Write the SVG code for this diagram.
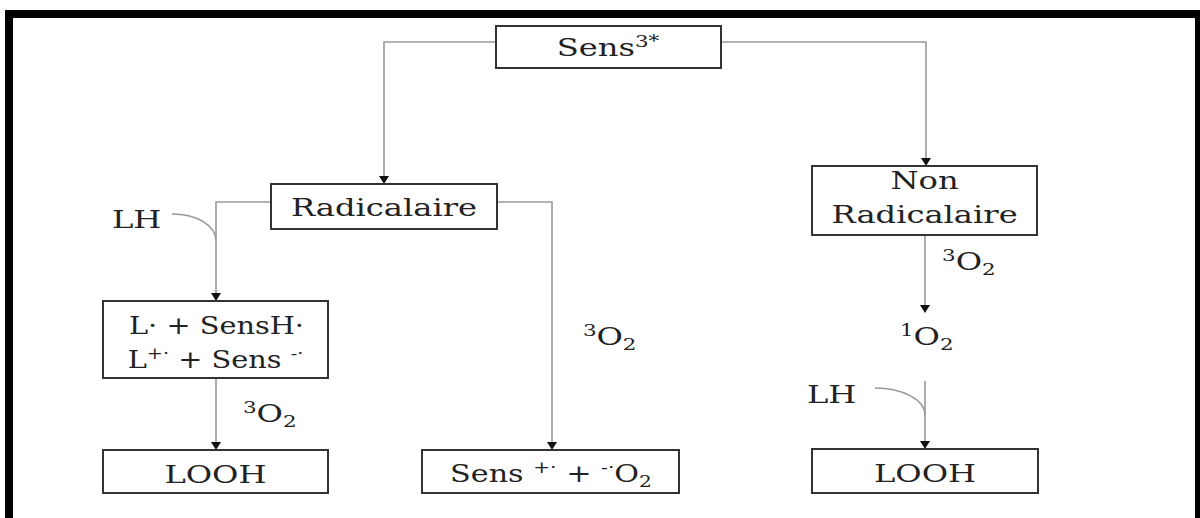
<svg xmlns="http://www.w3.org/2000/svg" width="1200" height="518" viewBox="0 0 1200 518">
<defs>
<style>
.box{fill:#fff;stroke:#333;stroke-width:2}
.con{fill:none;stroke:#999;stroke-width:1.6}
.t{font-family:"DejaVu Serif","Liberation Serif",serif;font-size:24px;fill:#222}
.m{text-anchor:middle}
</style>
</defs>
<rect x="0" y="0" width="1200" height="518" fill="#fff"/>
<g id="frame" fill="#000">
<rect x="5" y="10" width="1195" height="8"/>
<rect x="5" y="10" width="8" height="508"/>
<rect x="1195" y="10" width="5" height="508"/>
</g>
<g id="connectors">
<path class="con" d="M496,42 H384 V176"/>
<path class="con" d="M721,42 H926 V158"/>
<path class="con" d="M271,202 H216 V293"/>
<path class="con" d="M497,202 H552 V442"/>
<path class="con" d="M216,378 V442"/>
<path class="con" d="M925,235 V305"/>
<path class="con" d="M925,381 V441"/>
<path class="con" d="M172,214 C198,214 216,226 216,241"/>
<path class="con" d="M875,388 C903,388 925,400 925,415"/>
<g fill="#111">
<path d="M379,176 H389 L384,184 Z"/>
<path d="M921,158 H931 L926,166 Z"/>
<path d="M211,293 H221 L216,301 Z"/>
<path d="M547,442 H557 L552,450 Z"/>
<path d="M211,442 H221 L216,450 Z"/>
<path d="M920,305 H930 L925,313 Z"/>
<path d="M920,441 H930 L925,449 Z"/>
</g>
</g>
<g id="n-sens"><rect class="box" x="496" y="26" width="225" height="42"/></g>
<g id="n-radical"><rect class="box" x="271" y="184" width="226" height="45"/></g>
<g id="n-nonradical"><rect class="box" x="812" y="166" width="225" height="69"/></g>
<g id="n-lsens"><rect class="box" x="103" y="301" width="225" height="77"/></g>
<g id="n-looh1"><rect class="box" x="103" y="450" width="225" height="43"/></g>
<g id="n-sensO2"><rect class="box" x="422" y="450" width="257" height="43"/></g>
<g id="n-looh2"><rect class="box" x="812" y="449" width="226" height="44"/></g>
<g id="labels" transform="scale(1.34 1)">
<text class="t m" x="453.7" y="56">Sens<tspan font-size="16" dy="-9">3*</tspan></text>
<text class="t m" x="286.6" y="216">Radicalaire</text>
<text class="t m" x="690" y="189">Non</text>
<text class="t m" x="690" y="223">Radicalaire</text>
<text class="t m" x="160.8" y="483">LOOH</text>
<text class="t m" x="690.3" y="482">LOOH</text>
<text class="t" x="83.6" y="228">LH</text>
<text class="t" x="602.2" y="403">LH</text>
<text class="t" x="181.3" y="422"><tspan font-size="16" dy="-9">3</tspan><tspan dy="9">O</tspan><tspan font-size="16" dy="5">2</tspan></text>
<text class="t" x="435" y="345"><tspan font-size="16" dy="-9">3</tspan><tspan dy="9">O</tspan><tspan font-size="16" dy="5">2</tspan></text>
<text class="t" x="703" y="270"><tspan font-size="16" dy="-9">3</tspan><tspan dy="9">O</tspan><tspan font-size="16" dy="5">2</tspan></text>
<text class="t" x="671.6" y="345"><tspan font-size="16" dy="-9">1</tspan><tspan dy="9">O</tspan><tspan font-size="16" dy="5">2</tspan></text>
</g>
<g id="labels-narrow" transform="scale(1.2 1)">
<text class="t m" x="180.4" y="334">L· + SensH·</text>
<text class="t m" x="179.6" y="368">L<tspan font-size="16" dy="-9">+·</tspan><tspan dy="9"> + Sens </tspan><tspan font-size="16" dy="-9">-·</tspan></text>
</g>
<g id="labels-mid" transform="scale(1.26 1)">
<text class="t m" x="437.3" y="482">Sens <tspan font-size="16" dy="-9">+·</tspan><tspan dy="9"> + </tspan><tspan font-size="16" dy="-9">-·</tspan><tspan dy="9">O</tspan><tspan font-size="16" dy="5">2</tspan></text>
</g>
</svg>
